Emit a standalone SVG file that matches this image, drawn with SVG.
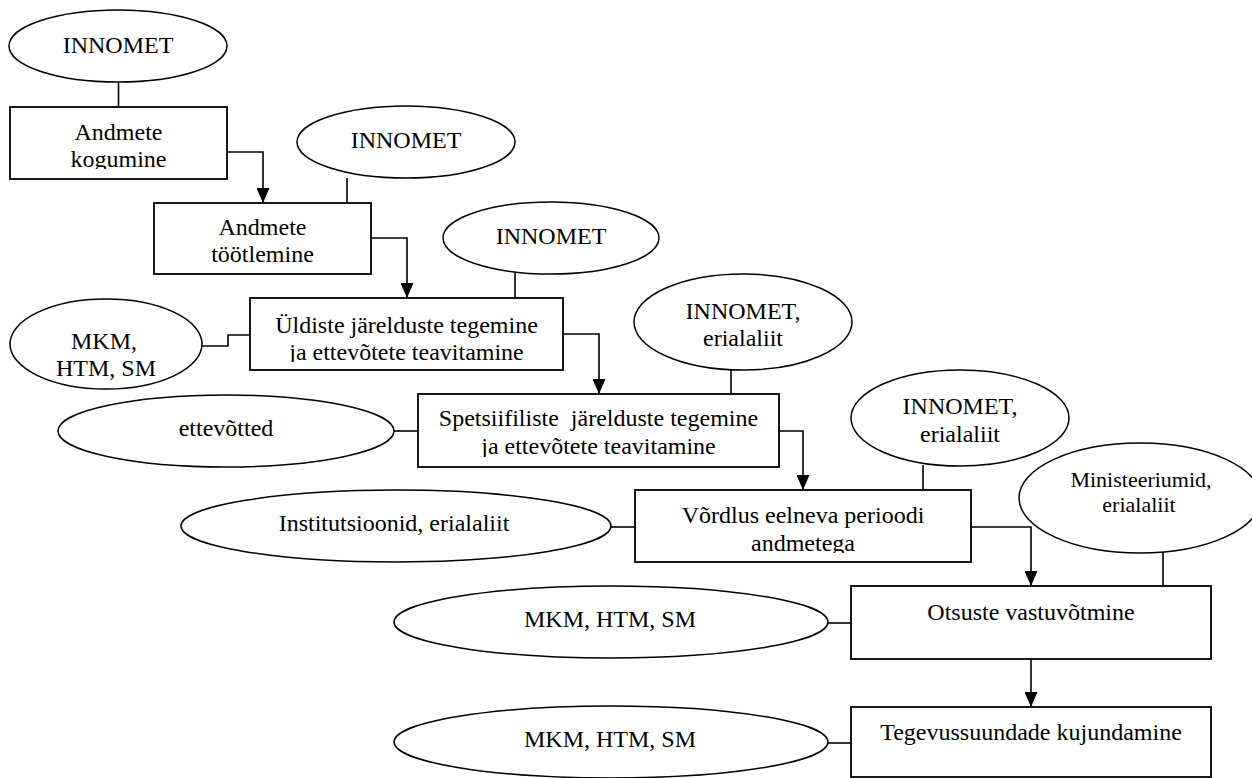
<svg xmlns="http://www.w3.org/2000/svg" width="1252" height="778" viewBox="0 0 1252 778">
<style>
.box{fill:#fff;stroke:#000;stroke-width:1.8}
.ell{fill:#fff;stroke:#000;stroke-width:1.5}
.t{font-family:"Liberation Serif","Times New Roman",serif;font-size:24px;fill:#000;text-anchor:middle}
.s{font-size:22px}
.c{fill:none;stroke:#000;stroke-width:1.6}
</style>
<defs>
<marker id="ah" markerUnits="userSpaceOnUse" markerWidth="15" markerHeight="13" refX="15" refY="6.5" orient="auto">
<path d="M0,0 L15,6.5 L0,13 z" fill="#000"/>
</marker>
<clipPath id="cb1"><rect x="10" y="107" width="217" height="62"/></clipPath>
<clipPath id="cb2"><rect x="154" y="203" width="217" height="61"/></clipPath>
<clipPath id="cb3"><rect x="250" y="298" width="313" height="64"/></clipPath>
<clipPath id="cb4"><rect x="418" y="394" width="361" height="63"/></clipPath>
<clipPath id="cb5"><rect x="635" y="490" width="336" height="63"/></clipPath>
</defs>

<g id="e1"><ellipse class="ell" cx="118" cy="46" rx="109" ry="36"/><text class="t" x="118" y="53">INNOMET</text></g>
<g id="b1"><rect class="box" x="10" y="107" width="217" height="72"/><text class="t" clip-path="url(#cb1)"><tspan x="118.5" y="140">Andmete</tspan><tspan x="118.5" y="167">kogumine</tspan></text></g>

<g id="e2"><ellipse class="ell" cx="406" cy="142" rx="109" ry="36"/><text class="t" x="406" y="148">INNOMET</text></g>
<g id="b2"><rect class="box" x="154" y="203" width="217" height="71"/><text class="t" clip-path="url(#cb2)"><tspan x="262.5" y="235">Andmete</tspan><tspan x="262.5" y="262">töötlemine</tspan></text></g>

<g id="e3"><ellipse class="ell" cx="551" cy="238" rx="108" ry="36"/><text class="t" x="551" y="244">INNOMET</text></g>
<g id="e4"><ellipse class="ell" cx="106" cy="344" rx="96" ry="45"/><text class="t"><tspan x="104" y="349">MKM,</tspan><tspan x="106" y="376">HTM, SM</tspan></text></g>
<g id="b3"><rect class="box" x="250" y="298" width="313" height="72"/><text class="t" clip-path="url(#cb3)"><tspan x="406.5" y="333">Üldiste järelduste tegemine</tspan><tspan x="406.5" y="360">ja ettevõtete teavitamine</tspan></text></g>

<g id="e5"><ellipse class="ell" cx="743" cy="322" rx="109" ry="48"/><text class="t"><tspan x="743" y="319">INNOMET,</tspan><tspan x="743" y="346">erialaliit</tspan></text></g>
<g id="e6"><ellipse class="ell" cx="226" cy="431" rx="168" ry="36"/><text class="t" x="226" y="436">ettevõtted</text></g>
<g id="b4"><rect class="box" x="418" y="394" width="361" height="73"/><text class="t" clip-path="url(#cb4)"><tspan x="598.5" y="426">Spetsiifiliste&#160; järelduste tegemine</tspan><tspan x="598.5" y="454">ja ettevõtete teavitamine</tspan></text></g>

<g id="e7"><ellipse class="ell" cx="960" cy="418" rx="109" ry="48"/><text class="t"><tspan x="960" y="414">INNOMET,</tspan><tspan x="960" y="442">erialaliit</tspan></text></g>
<g id="e8"><ellipse class="ell" cx="396" cy="526" rx="215" ry="36"/><text class="t" x="394" y="531">Institutsioonid, erialaliit</text></g>
<g id="b5"><rect class="box" x="635" y="490" width="336" height="72"/><text class="t" clip-path="url(#cb5)"><tspan x="803" y="523">Võrdlus eelneva perioodi</tspan><tspan x="803" y="551">andmetega</tspan></text></g>

<g id="e9"><ellipse class="ell" cx="1140" cy="498" rx="121" ry="55"/><text class="t s"><tspan x="1141" y="487">Ministeeriumid,</tspan><tspan x="1139" y="512">erialaliit</tspan></text></g>
<g id="e10"><ellipse class="ell" cx="611" cy="622" rx="217" ry="36"/><text class="t" x="610" y="627">MKM, HTM, SM</text></g>
<g id="b6"><rect class="box" x="851" y="586" width="360" height="73"/><text class="t" x="1031" y="620">Otsuste vastuvõtmine</text></g>

<g id="e11"><ellipse class="ell" cx="611" cy="742" rx="217" ry="36"/><text class="t" x="610" y="747">MKM, HTM, SM</text></g>
<g id="b7"><rect class="box" x="851" y="707" width="360" height="70"/><text class="t" x="1031" y="740">Tegevussuundade kujundamine</text></g>

<g id="connectors">
<path class="c" d="M118.5,82 V107"/>
<path class="c" d="M227,152 H263 V203" marker-end="url(#ah)"/>
<path class="c" d="M347,178 V203"/>
<path class="c" d="M371,238 H407 V298" marker-end="url(#ah)"/>
<path class="c" d="M515,273 V298"/>
<path class="c" d="M202,346 H228 V335 H250"/>
<path class="c" d="M563,334 H599 V394" marker-end="url(#ah)"/>
<path class="c" d="M731,370 V394"/>
<path class="c" d="M394,431 H418"/>
<path class="c" d="M779,431 H803 V490" marker-end="url(#ah)"/>
<path class="c" d="M923,465 V490"/>
<path class="c" d="M611,527 H635"/>
<path class="c" d="M971,527 H1031 V586" marker-end="url(#ah)"/>
<path class="c" d="M1163,552 V586"/>
<path class="c" d="M828,623 H851"/>
<path class="c" d="M1031,659 V707" marker-end="url(#ah)"/>
<path class="c" d="M828,743 H851"/>
</g>
</svg>
